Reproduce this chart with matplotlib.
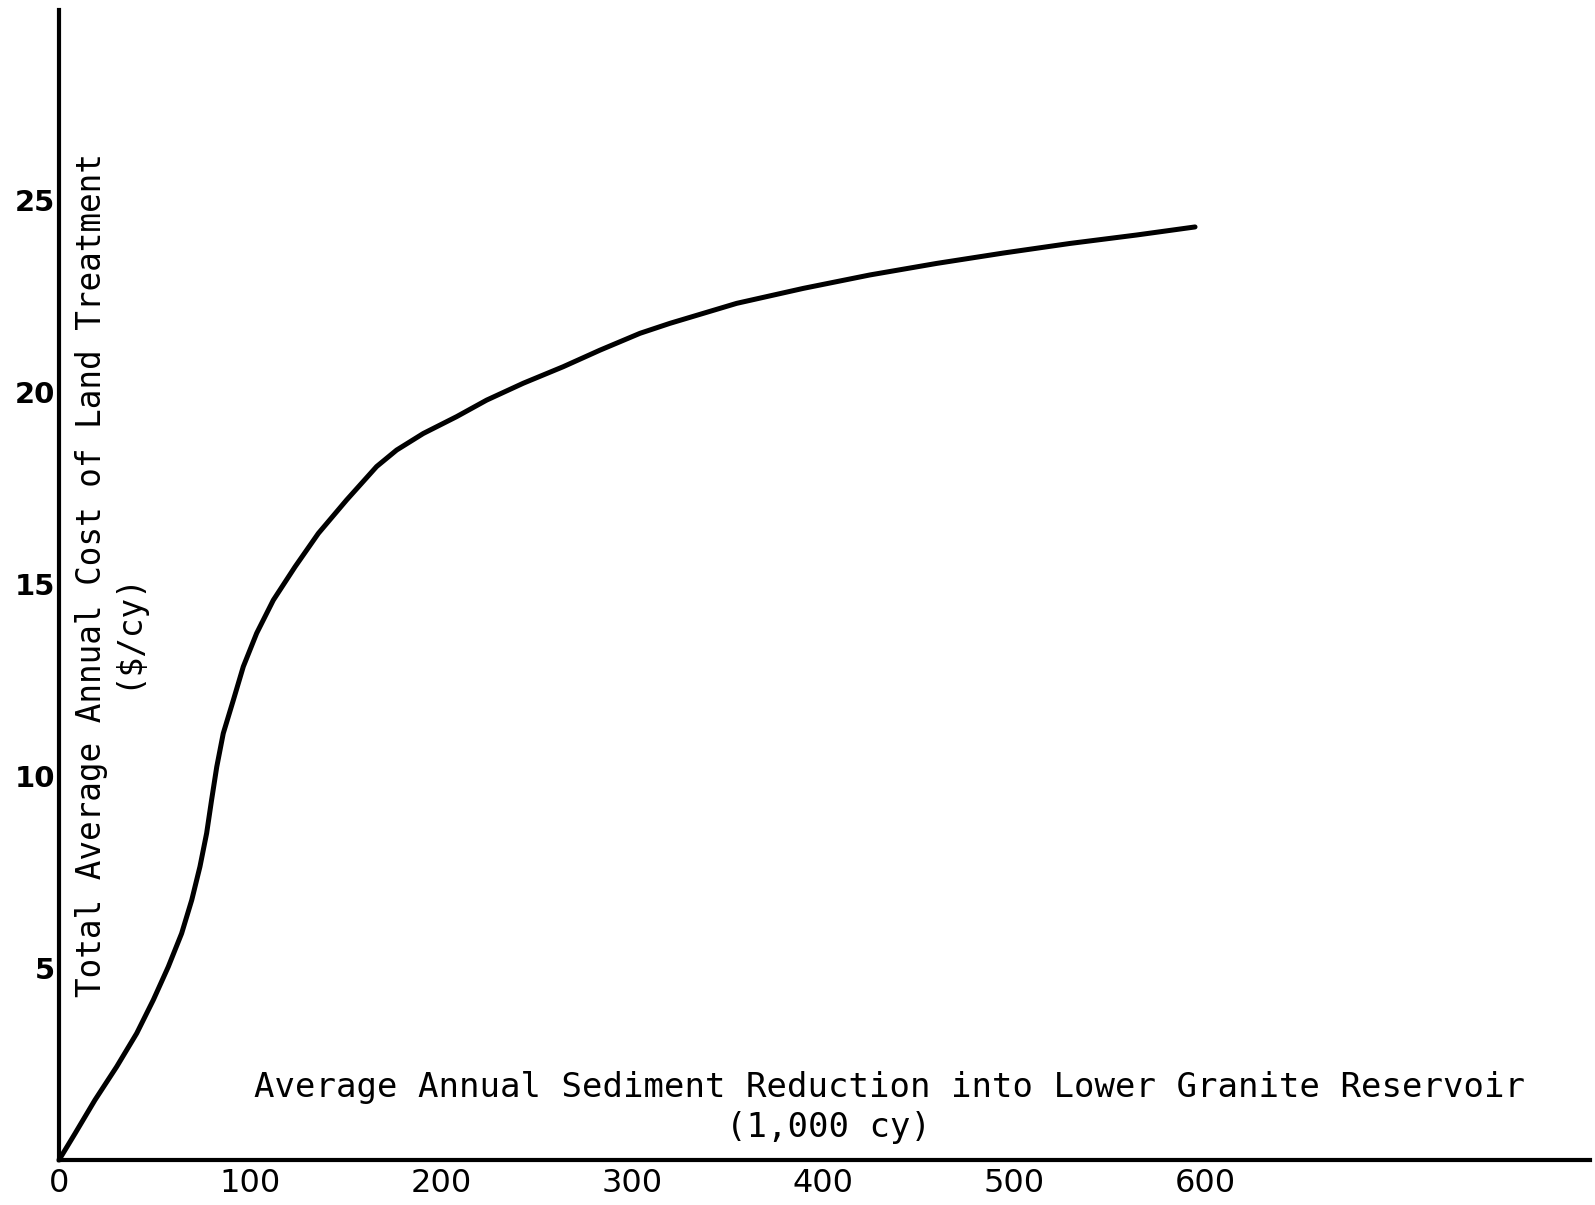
import matplotlib
matplotlib.use("Agg")
import matplotlib.pyplot as plt

# Data
reduction = [0, 8.4, 18.8, 30.2, 40.7, 49.4, 57.2, 64.2, 69.5, 73.8,
             77.3, 79.9, 82.6, 86.0, 91.3, 96.5, 103.5, 112.2, 123.6, 135.8,
             150.6, 166.3, 176.8, 190.7, 208.2, 223.9, 243.1, 264.0, 283.2, 304.2,
             319.9, 354.8, 389.7, 424.6, 459.5, 494.4, 529.3, 564.2, 594.8]
cost = [0, 0.69, 1.56, 2.43, 3.30, 4.17, 5.03, 5.90, 6.77, 7.64,
        8.51, 9.38, 10.24, 11.11, 11.98, 12.85, 13.72, 14.58, 15.45, 16.32,
        17.19, 18.06, 18.49, 18.92, 19.36, 19.79, 20.23, 20.66, 21.09, 21.53,
        21.79, 22.31, 22.70, 23.05, 23.35, 23.62, 23.87, 24.09, 24.30]
x_ticks = [0, 100, 200, 300, 400, 500, 600]
y_ticks = [5, 10, 15, 20, 25]

xlabel = "Average Annual Sediment Reduction into Lower Granite Reservoir"
xunit = "(1,000 cy)"
ylabel = "Total Average Annual Cost of Land Treatment"
yunit = "($/cy)"

plt.rcParams['font.family'] = ['DejaVu Sans']
mono = 'DejaVu Sans Mono'

W, H = 1595, 1205
fig = plt.figure(figsize=(W / 100, H / 100), dpi=100)
left, right, bottom, top = 59, 1590, 1160, 10
ax = fig.add_axes([left / W, 1 - bottom / H, (right - left) / W, (bottom - top) / H])

ax.plot(reduction, cost, color='black', lw=3.6, solid_joinstyle='round',
        solid_capstyle='round', clip_on=False)

ax.set_xlim(0, 801.6)
ax.set_ylim(0, 29.95)
for s in ['top', 'right']:
    ax.spines[s].set_visible(False)
for s in ['left', 'bottom']:
    ax.spines[s].set_linewidth(3.0)
    ax.spines[s].set_color('black')

ax.set_xticks(x_ticks)
ax.set_xticklabels([str(v) for v in x_ticks], fontsize=23)
ax.set_yticks(y_ticks)
ax.set_yticklabels([str(v) for v in y_ticks], fontsize=21, fontweight='bold')
ax.tick_params(axis='x', length=0, pad=6)
ax.tick_params(axis='y', length=0, pad=3)

fig.text(890 / W, 1 - 1088 / H, xlabel, ha='center', va='center',
         fontsize=24.5, family=mono)
fig.text(829 / W, 1 - 1127 / H, xunit, ha='center', va='center',
         fontsize=24.5, family=mono)
fig.text(92 / W, 1 - 575 / H, ylabel, ha='center', va='center', rotation=90,
         fontsize=23.5, family=mono)
fig.text(127 / W, 1 - 630 / H, yunit, ha='center', va='center', rotation=90,
         fontsize=23.5, family=mono)

fig.savefig("out.png", dpi=100, facecolor='white')
